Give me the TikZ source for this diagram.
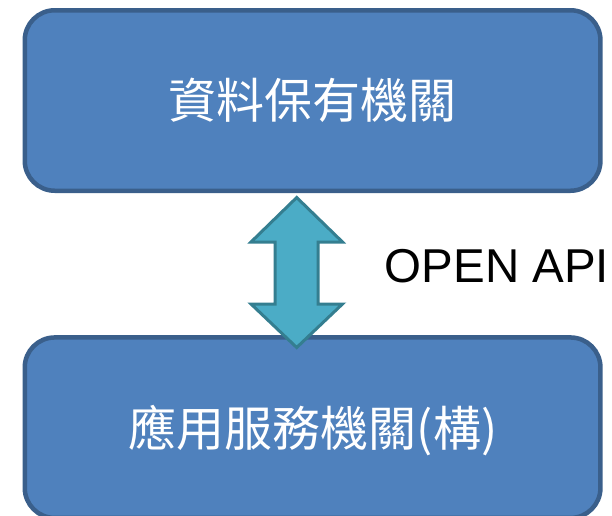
\documentclass[tikz,border=0pt]{standalone}
\usepackage{fontspec}
\setmainfont{Liberation Sans}
\newfontfamily\cjk{Noto Sans CJK TC}
\definecolor{boxfill}{HTML}{4F81BD}
\definecolor{boxline}{HTML}{3A5F8B}
\definecolor{arrfill}{HTML}{4BACC6}
\definecolor{arrline}{HTML}{347E90}
\begin{document}
\begin{tikzpicture}[x=1pt,y=-1pt,
  orgbox/.style={draw=boxline, fill=boxfill, line width=4.5pt, rounded corners=30pt,
    minimum width=575.7pt, minimum height=180.5pt, inner sep=0pt, outer sep=0pt},
  cjktext/.style={text=white, font=\cjk\fontsize{48}{52}\selectfont},
  apiblock/.style={draw=arrline, fill=arrfill, line width=3pt, line join=miter}
]
\useasboundingbox (0,0) rectangle (612,515);
\clip (0,0) rectangle (612,515);
\node[orgbox] (top) at (312.6,100.5) {};
\node[orgbox] (bot) at (312.6,427.7) {};
\node[cjktext] (toptxt) at (312,100) {資料保有機關};
\node[cjktext] (bottxt) at (313,431) {應用服務機關(構)};
\coordinate (tip1) at (296.7,197.5);
\coordinate (tip2) at (296.7,347.5);
\draw[apiblock] (tip1) -- (342.5,242) -- (318,242) -- (318,304) -- (342.5,304) -- (tip2)
  -- (251,304) -- (275,304) -- (275,242) -- (251,242) -- cycle;
\node[anchor=base west, inner sep=0pt, font=\fontsize{47.5}{52}\selectfont] (api) at (384.5,282) {OPEN API};
\end{tikzpicture}
\end{document}
